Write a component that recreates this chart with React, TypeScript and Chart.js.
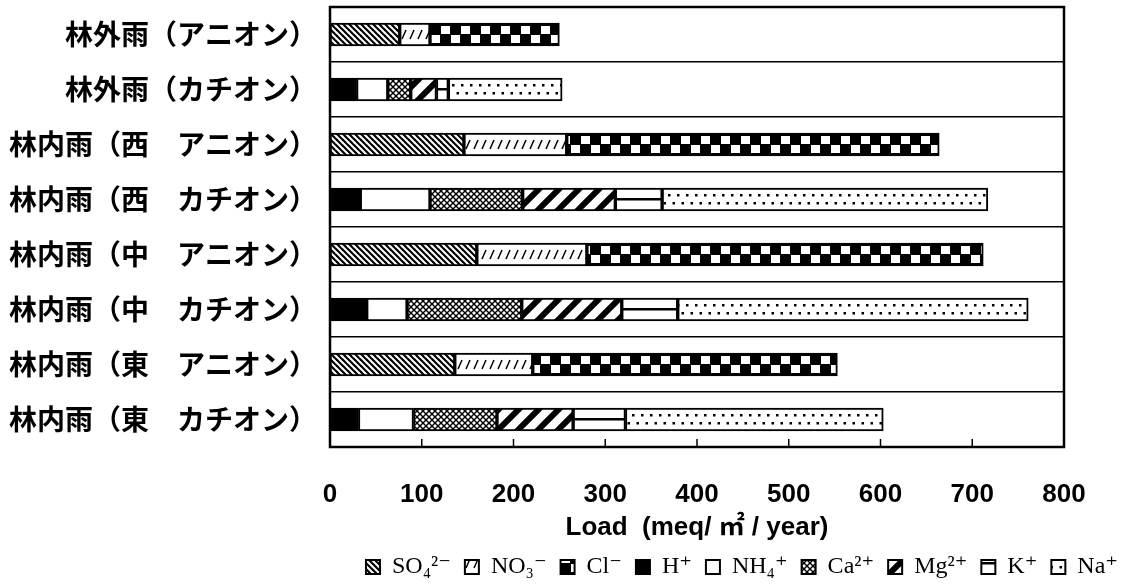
import React, { useEffect, useRef } from 'react';
import { Chart, registerables } from 'chart.js';

Chart.register(...registerables);

const categories = [
  '林外雨（アニオン）',
  '林外雨（カチオン）',
  '林内雨（西　アニオン）',
  '林内雨（西　カチオン）',
  '林内雨（中　アニオン）',
  '林内雨（中　カチオン）',
  '林内雨（東　アニオン）',
  '林内雨（東　カチオン）',
];

const seriesNames = ['SO₄²⁻', 'NO₃⁻', 'Cl⁻', 'H⁺', 'NH₄⁺', 'Ca²⁺', 'Mg²⁺', 'K⁺', 'Na⁺'];

const so4 = [76, null, 146, null, 160, null, 136, null];
const no3 = [33, null, 112, null, 120, null, 85, null];
const cl = [141, null, 406, null, 432, null, 332, null];
const hIon = [null, 29, null, 33, null, 40, null, 31];
const nh4 = [null, 34, null, 76, null, 44, null, 60];
const ca = [null, 25, null, 101, null, 125, null, 91];
const mg = [null, 28, null, 101, null, 109, null, 83];
const kIon = [null, 13, null, 51, null, 61, null, 57];
const na = [null, 124, null, 355, null, 382, null, 281];

const xMin = 0;
const xMax = 800;
const xStep = 100;
const xTitle = 'Load  (meq/ ㎡ / year)';

const BAR = 23;
const patternKinds = ['back', 'dash', 'checker', 'solid', 'white', 'cross', 'forward', 'horiz', 'dots'];

function makeTile(kind: string): HTMLCanvasElement {
  const c = document.createElement('canvas');
  let w = 8, h = BAR;
  if (kind === 'back') { w = 6; h = 6; }
  if (kind === 'dash') { w = 8; h = BAR; }
  if (kind === 'checker') { w = 20; h = BAR; }
  if (kind === 'cross') { w = 6; h = 6; }
  if (kind === 'forward') { w = 20; h = 20; }
  if (kind === 'horiz') { w = 4; h = BAR; }
  if (kind === 'dots') { w = 9; h = BAR; }
  c.width = w; c.height = h;
  const g = c.getContext('2d')!;
  g.fillStyle = '#fff';
  g.fillRect(0, 0, w, h);
  g.strokeStyle = '#000';
  g.fillStyle = '#000';
  if (kind === 'back') {
    g.lineWidth = 2.2;
    for (const off of [-w, 0, w]) {
      g.beginPath(); g.moveTo(off - 1, -1); g.lineTo(off + w + 1, h + 1); g.stroke();
    }
  } else if (kind === 'dash') {
    g.lineWidth = 1.5;
    g.beginPath(); g.moveTo(2, 16); g.lineTo(6, 7); g.stroke();
  } else if (kind === 'checker') {
    g.fillRect(0, 0, w, h);
    g.fillStyle = '#fff';
    g.fillRect(1, 3, 9, 8);
    g.fillRect(11, 12, 9, 8);
  } else if (kind === 'cross') {
    g.lineWidth = 1.4;
    for (const off of [-w, 0, w]) {
      g.beginPath(); g.moveTo(off - 1, -1); g.lineTo(off + w + 1, h + 1); g.stroke();
      g.beginPath(); g.moveTo(off - 1, h + 1); g.lineTo(off + w + 1, -1); g.stroke();
    }
  } else if (kind === 'forward') {
    g.lineWidth = 6;
    for (const off of [-w, 0, w]) {
      g.beginPath(); g.moveTo(off - 2, h + 2); g.lineTo(off + w + 2, -2); g.stroke();
    }
  } else if (kind === 'horiz') {
    g.fillRect(0, 10, w, 2.5);
  } else if (kind === 'dots') {
    g.fillRect(2, 6, 2.5, 2.5);
    g.fillRect(6.5, 14, 2.5, 2.5);
  }
  return c;
}

const framePlugin = {
  id: 'frameTicks',
  afterDatasetsDraw(chart: any) {
    const { ctx, chartArea } = chart;
    const { left, right, top, bottom } = chartArea;
    const x = chart.scales.x;
    ctx.save();
    ctx.strokeStyle = '#000';
    ctx.lineWidth = 1.5;
    x.ticks.forEach((_t: any, i: number) => {
      const px = x.getPixelForTick(i);
      ctx.beginPath();
      ctx.moveTo(px, bottom);
      ctx.lineTo(px, bottom - 8);
      ctx.stroke();
    });
    ctx.lineWidth = 2.5;
    ctx.strokeRect(left, top, right - left, bottom - top);
    ctx.restore();
  },
};

export default function App() {
  const ref = useRef<HTMLCanvasElement>(null);

  useEffect(() => {
    const canvas = ref.current!;
    const ctx = canvas.getContext('2d')!;
    const seriesData = [so4, no3, cl, hIon, nh4, ca, mg, kIon, na];
    const cache: Record<string, CanvasPattern> = {};
    const styleFor = (kind: string) => (c: any) => {
      if (kind === 'solid') return '#000';
      if (kind === 'white') return '#fff';
      const yScale = c.chart.scales.y;
      let top = 0;
      if (c.type === 'data' && yScale && isFinite(yScale.getPixelForValue(c.dataIndex))) {
        top = Math.round(yScale.getPixelForValue(c.dataIndex) - BAR / 2);
      }
      const key = kind + ':' + top;
      if (!cache[key]) {
        const p = ctx.createPattern(makeTile(kind), 'repeat') as CanvasPattern;
        if (top && (p as any).setTransform) p.setTransform(new DOMMatrix().translate(0, top));
        cache[key] = p;
      }
      return cache[key];
    };
    const datasets = seriesData.map((d, i) => ({
      label: seriesNames[i],
      data: d,
      backgroundColor: styleFor(patternKinds[i]),
      borderColor: '#000',
      borderWidth: 2,
      borderSkipped: false,
      barThickness: BAR,
    }));

    const chart = new Chart(canvas, {
      type: 'bar',
      data: { labels: categories, datasets: datasets as any },
      plugins: [framePlugin],
      options: {
        animation: false,
        responsive: false,
        indexAxis: 'y',
        layout: { padding: { top: 7, right: 0, left: 0, bottom: 0 } },
        plugins: {
          tooltip: { enabled: false },
          legend: {
            position: 'bottom',
            align: 'end',
            maxHeight: 44,
            labels: {
              boxWidth: 14,
              boxHeight: 14,
              padding: 14,
              color: '#000',
              font: { family: '"Liberation Serif", "DejaVu Serif", serif', size: 24 },
            },
          },
        },
        scales: {
          x: {
            stacked: true,
            min: xMin,
            max: xMax,
            ticks: {
              stepSize: xStep,
              autoSkip: false,
              color: '#000',
              padding: 24,
              font: { family: '"Liberation Sans", Arial, sans-serif', size: 26, weight: 'bold' },
            },
            grid: { display: false },
            border: { display: false },
            title: {
              display: true,
              text: xTitle,
              color: '#000',
              padding: { top: 0, bottom: 0 },
              font: { family: '"Liberation Sans", Arial, "Noto Sans CJK JP", sans-serif', size: 26, weight: 'bold', lineHeight: 1 },
            },
            afterFit: (s: any) => { s.height = 94; },
          },
          y: {
            stacked: true,
            ticks: {
              color: '#000',
              padding: 13,
              font: { family: '"Noto Sans CJK JP", sans-serif', size: 28, weight: 'bold' },
            },
            grid: { color: '#000', lineWidth: 1.5, drawTicks: false },
            border: { display: false },
            afterFit: (s: any) => { s.width = 330; s.paddingTop = 0; s.paddingBottom = 0; },
          },
          yRight: {
            type: 'linear',
            position: 'right',
            display: true,
            ticks: { display: false },
            grid: { display: false },
            border: { display: false },
            afterFit: (s: any) => { s.width = 68; s.paddingTop = 0; s.paddingBottom = 0; },
          },
        },
      } as any,
    });
    return () => chart.destroy();
  }, []);

  return (
    <div style={{ position: 'fixed', left: 0, top: 0, width: 1132, height: 585, background: '#fff' }}>
      <canvas ref={ref} width={1132} height={585} />
    </div>
  );
}
